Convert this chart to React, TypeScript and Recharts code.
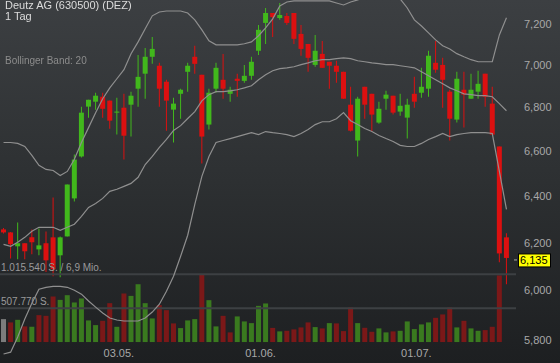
import { ComposedChart, Bar, Line, XAxis, YAxis, ReferenceLine, Cell } from 'recharts';

// Deutz AG, daily candles 09.04.–20.07.
const dates = [
  '09.04.', '12.04.', '13.04.', '14.04.', '15.04.', '16.04.', '19.04.', '20.04.', '21.04.', '22.04.',
  '23.04.', '26.04.', '27.04.', '28.04.', '29.04.', '30.04.', '03.05.', '04.05.', '05.05.', '06.05.',
  '07.05.', '10.05.', '11.05.', '12.05.', '13.05.', '14.05.', '17.05.', '18.05.', '19.05.', '20.05.',
  '21.05.', '25.05.', '26.05.', '27.05.', '28.05.', '31.05.', '01.06.', '02.06.', '03.06.', '04.06.',
  '07.06.', '08.06.', '09.06.', '10.06.', '11.06.', '14.06.', '15.06.', '16.06.', '17.06.', '18.06.',
  '21.06.', '22.06.', '23.06.', '24.06.', '25.06.', '28.06.', '29.06.', '30.06.', '01.07.', '02.07.',
  '05.07.', '06.07.', '07.07.', '08.07.', '09.07.', '12.07.', '13.07.', '14.07.', '15.07.', '16.07.',
  '19.07.', '20.07.',
];

const opens = [
  6.256, 6.243, 6.184, 6.197, 6.222, 6.171, 6.197, 6.222, 6.146, 6.226,
  6.390, 6.576, 6.804, 6.827, 6.850, 6.832, 6.776, 6.799, 6.813, 6.888,
  6.959, 7.040, 6.997, 6.921, 6.790, 6.864, 6.968, 7.040, 6.954, 6.721,
  6.888, 6.930, 6.864, 6.935, 6.925, 6.949, 7.069, 7.205, 7.254, 7.229,
  7.239, 7.254, 7.151, 7.102, 7.001, 7.054, 7.016, 6.997, 6.968, 6.813,
  6.648, 6.897, 6.864, 6.730, 6.841, 6.855, 6.781, 6.753, 6.864, 6.869,
  6.888, 7.011, 7.001, 6.874, 6.744, 6.883, 6.841, 6.874, 6.959, 6.818,
  6.621, 6.222,
];
const highs = [
  6.262, 6.245, 6.286, 6.197, 6.256, 6.260, 6.247, 6.394, 6.226, 6.451,
  6.585, 6.804, 6.836, 6.869, 6.869, 6.832, 6.846, 6.864, 6.874, 7.049,
  7.083, 7.136, 7.011, 6.930, 6.846, 6.888, 7.011, 7.093, 6.954, 6.888,
  7.011, 7.054, 6.897, 6.959, 7.001, 7.040, 7.195, 7.279, 7.254, 7.304,
  7.254, 7.254, 7.195, 7.102, 7.146, 7.117, 7.016, 7.021, 6.968, 6.897,
  6.850, 6.897, 6.864, 6.827, 6.878, 6.855, 6.864, 6.841, 6.944, 6.987,
  7.069, 7.117, 7.035, 6.883, 6.968, 6.968, 6.959, 6.973, 6.959, 6.897,
  6.621, 6.239,
];
const lows = [
  6.238, 6.133, 6.129, 6.129, 6.150, 6.146, 6.076, 6.059, 6.055, 6.226,
  6.377, 6.571, 6.753, 6.790, 6.753, 6.702, 6.675, 6.562, 6.666, 6.804,
  6.841, 7.006, 6.804, 6.693, 6.639, 6.748, 6.874, 6.959, 6.544, 6.698,
  6.869, 6.841, 6.827, 6.850, 6.916, 6.930, 7.049, 7.102, 7.136, 7.220,
  7.195, 7.102, 7.045, 6.968, 6.992, 6.987, 6.888, 6.916, 6.841, 6.689,
  6.576, 6.748, 6.689, 6.725, 6.790, 6.767, 6.762, 6.657, 6.799, 6.846,
  6.850, 6.963, 6.799, 6.648, 6.730, 6.707, 6.841, 6.841, 6.804, 6.675,
  6.117, 6.026,
];
const closes = [
  6.243, 6.193, 6.197, 6.163, 6.201, 6.188, 6.125, 6.088, 6.222, 6.451,
  6.562, 6.776, 6.836, 6.855, 6.794, 6.739, 6.781, 6.670, 6.855, 6.944,
  7.040, 7.078, 6.888, 6.832, 6.818, 6.883, 6.997, 7.006, 6.666, 6.869,
  6.987, 6.888, 6.883, 6.925, 6.949, 7.016, 7.171, 7.254, 7.234, 7.244,
  7.205, 7.127, 7.078, 7.035, 7.069, 6.987, 6.997, 6.968, 6.841, 6.693,
  6.841, 6.813, 6.767, 6.794, 6.860, 6.776, 6.808, 6.813, 6.827, 6.897,
  7.045, 6.978, 6.930, 6.748, 6.935, 6.860, 6.883, 6.911, 6.850, 6.675,
  6.154, 6.135,
];
const volumes = [
  343500, 294200, 333000, 234500, 228500, 403200, 392800, 682500, 631700, 701900,
  592900, 652600, 324100, 253900, 318100, 582400, 228500, 727300, 691400, 866200,
  582400, 353900, 552600, 477900, 279300, 209100, 324100, 343500, 1015540, 627200,
  234500, 392800, 144900, 383800, 309100, 283700, 542100, 578000, 212100, 159800,
  168800, 189700, 219500, 294200, 224000, 204600, 283700, 279300, 164300, 518200,
  283700, 213600, 153800, 204600, 144900, 159800, 168800, 309100, 194100, 264300,
  294200, 362900, 413700, 518200, 219500, 318100, 204600, 168800, 179200, 228500,
  998000, null,
];

// Bollinger Band (20)
const bbUpper = [
  6.639, 6.639, 6.635, 6.621, 6.581, 6.536, 6.518, 6.513, 6.491, 6.509,
  6.563, 6.639, 6.707, 6.776, 6.841, 6.892, 6.935, 6.978, 7.055, 7.112,
  7.176, 7.240, 7.259, 7.264, 7.264, 7.264, 7.254, 7.220, 7.171, 7.117,
  7.098, 7.098, 7.098, 7.098, 7.103, 7.112, 7.142, 7.181, 7.225, 7.289,
  7.309, 7.314, 7.314, 7.314, 7.314, 7.314, 7.314, 7.304, 7.294, 7.309,
  7.319, 7.334, 7.349, 7.359, 7.359, 7.349, 7.324, 7.279, 7.220, 7.190,
  7.156, 7.122, 7.093, 7.078, 7.055, 7.040, 7.026, 7.016, 7.016, 7.016,
  7.146, 7.230,
];
const bbMiddle = [
  6.192, 6.184, 6.201, 6.222, 6.248, 6.265, 6.265, 6.265, 6.252, 6.265,
  6.278, 6.312, 6.351, 6.368, 6.390, 6.421, 6.430, 6.443, 6.456, 6.483,
  6.540, 6.576, 6.617, 6.653, 6.694, 6.716, 6.749, 6.781, 6.831, 6.860,
  6.874, 6.874, 6.878, 6.883, 6.892, 6.902, 6.930, 6.954, 6.973, 6.983,
  6.987, 6.992, 7.002, 7.011, 7.021, 7.026, 7.026, 7.031, 7.035, 7.031,
  7.021, 7.016, 7.011, 7.007, 7.002, 7.002, 6.997, 6.992, 6.987, 6.968,
  6.949, 6.930, 6.911, 6.892, 6.878, 6.864, 6.860, 6.855, 6.855, 6.850,
  6.818, 6.785,
];
const bbLower = [
  5.745, 5.752, 5.812, 5.884, 5.948, 6.005, 6.013, 6.017, 6.017, 6.013,
  6.001, 5.985, 5.957, 5.932, 5.908, 5.888, 5.880, 5.876, 5.876, 5.876,
  5.888, 5.912, 5.944, 5.997, 6.059, 6.142, 6.231, 6.364, 6.487, 6.576,
  6.639, 6.648, 6.657, 6.666, 6.675, 6.684, 6.675, 6.689, 6.684, 6.680,
  6.675, 6.666, 6.680, 6.698, 6.721, 6.734, 6.734, 6.748, 6.776, 6.739,
  6.721, 6.703, 6.689, 6.671, 6.657, 6.644, 6.626, 6.621, 6.621, 6.635,
  6.653, 6.666, 6.680, 6.666, 6.675, 6.680, 6.684, 6.684, 6.684, 6.680,
  6.509, 6.342,
];

const priceTicks = [5.8, 6.0, 6.2, 6.4, 6.6, 6.8, 7.0, 7.2];
const dateTicks = ['03.05.', '01.06.', '01.07.'];
const lastPrice = 6.135;
const volMax = 1015540;

const W = 560;
const H = 363;
const UP = '#41b81c';
const DOWN = '#dc1010';
const VOL_UP = '#3a7a1f';
const VOL_DOWN = '#7b1818';
const BAND = '#8f8f8f';
const TICK = '#a8a8a8';
const FONT = '"Liberation Sans", Arial, sans-serif';

const rows = dates.map((d, i) => ({
  date: d,
  wick: [lows[i], highs[i]],
  body: [Math.min(opens[i], closes[i]), Math.max(opens[i], closes[i])],
  vol: volumes[i],
  upper: bbUpper[i],
  middle: bbMiddle[i],
  lower: bbLower[i],
}));

const candleColor = (i: number) => (closes[i] >= opens[i] ? UP : DOWN);
const volColor = (i: number) => {
  if (i === 0) return '#7c7c7c';
  return closes[i] >= closes[i - 1] ? VOL_UP : VOL_DOWN;
};

const fmtPrice = (v: number) => v.toFixed(3).replace('.', ',');
const pad = { left: 0, right: 6 };

const volLabel = (text: string) => ({ viewBox }: any) => (
  <text x={viewBox.x + 1} y={viewBox.y - 3} fill="#9a9a9a" fontSize={10} fontFamily={FONT}>
    {text}
  </text>
);

export default function App() {
  return (
    <div
      style={{
        position: 'fixed', left: 0, top: 0, width: W, height: H,
        background: 'linear-gradient(to bottom, #3c3f42 0%, #2d3032 50%, #1d1f21 100%)',
        fontFamily: FONT,
      }}
    >
      <ComposedChart width={W} height={H} data={rows} margin={{ top: 0, right: 0, bottom: 0, left: 0 }}>
        <XAxis
          xAxisId="main"
          dataKey="date"
          ticks={dateTicks}
          interval={0}
          height={1}
          padding={pad}
          axisLine={false}
          tickLine={false}
          tick={({ x, payload }: any) => (
            <text x={x + 2} y={H - 6} textAnchor="middle" fill={TICK} fontSize={11} fontFamily={FONT}>
              {payload.value}
            </text>
          )}
        />
        <XAxis xAxisId="vol" dataKey="date" hide padding={pad} />
        <XAxis xAxisId="wick" dataKey="date" hide padding={pad} />
        <XAxis xAxisId="body" dataKey="date" hide padding={pad} />
        <YAxis
          yAxisId="price"
          orientation="right"
          scale="log"
          domain={[5.7135, 7.3188]}
          allowDataOverflow
          ticks={priceTicks}
          width={44}
          axisLine={false}
          tickLine={false}
          tick={({ x, y, payload }: any) => (
            <text x={x} y={y + 4} textAnchor="start" fill={TICK} fontSize={11} fontFamily={FONT}>
              {fmtPrice(payload.value)}
            </text>
          )}
        />
        <YAxis yAxisId="vol" hide domain={[-298700, 5122400]} allowDataOverflow />

        <Bar xAxisId="vol" yAxisId="vol" dataKey="vol" barSize={5} isAnimationActive={false}>
          {rows.map((_, i) => <Cell key={i} fill={volColor(i)} />)}
        </Bar>

        <ReferenceLine xAxisId="main" yAxisId="vol" y={volMax} stroke="#3d4043" strokeWidth={2}
          label={volLabel('1.015.540 S. / 6,9 Mio.')} />
        <ReferenceLine xAxisId="main" yAxisId="vol" y={volMax / 2} stroke="#3d4043" strokeWidth={2}
          label={volLabel('507.770 S.')} />

        <Line xAxisId="main" yAxisId="price" dataKey="upper" stroke={BAND} strokeWidth={1.2}
          dot={false} activeDot={false} isAnimationActive={false} />
        <Line xAxisId="main" yAxisId="price" dataKey="middle" stroke={BAND} strokeWidth={1.2}
          dot={false} activeDot={false} isAnimationActive={false} />
        <Line xAxisId="main" yAxisId="price" dataKey="lower" stroke={BAND} strokeWidth={1.2}
          dot={false} activeDot={false} isAnimationActive={false} />

        <Bar xAxisId="wick" yAxisId="price" dataKey="wick" barSize={1} isAnimationActive={false}>
          {rows.map((_, i) => <Cell key={i} fill={candleColor(i)} />)}
        </Bar>
        <Bar xAxisId="body" yAxisId="price" dataKey="body" barSize={5} minPointSize={1} isAnimationActive={false}>
          {rows.map((_, i) => <Cell key={i} fill={candleColor(i)} />)}
        </Bar>

        <ReferenceLine
          xAxisId="main" yAxisId="price" y={lastPrice} stroke="none"
          label={({ viewBox }: any) => {
            const x0 = viewBox.x + viewBox.width;
            const yc = viewBox.y + 2;
            return (
              <g>
                <line x1={x0 - 2} x2={x0 + 1} y1={yc} y2={yc} stroke={TICK} />
                <rect x={x0 + 2.5} y={yc - 6} width={32} height={13} fill="#ffff00" stroke="#000" strokeWidth={1} />
                <text x={x0 + 4} y={yc + 4} fill="#000" fontSize={11} fontFamily={FONT}>
                  {fmtPrice(lastPrice)}
                </text>
              </g>
            );
          }}
        />
      </ComposedChart>

      <div style={{ position: 'absolute', left: 5, top: 0, color: '#dcdcdc', fontSize: 11, lineHeight: '11px' }}>
        <div>Deutz AG (630500) (DEZ)</div>
        <div>1 Tag</div>
      </div>
      <div style={{ position: 'absolute', left: 5, top: 55, color: '#8c8c8c', fontSize: 10, lineHeight: '12px' }}>
        Bollinger Band: 20
      </div>
    </div>
  );
}
